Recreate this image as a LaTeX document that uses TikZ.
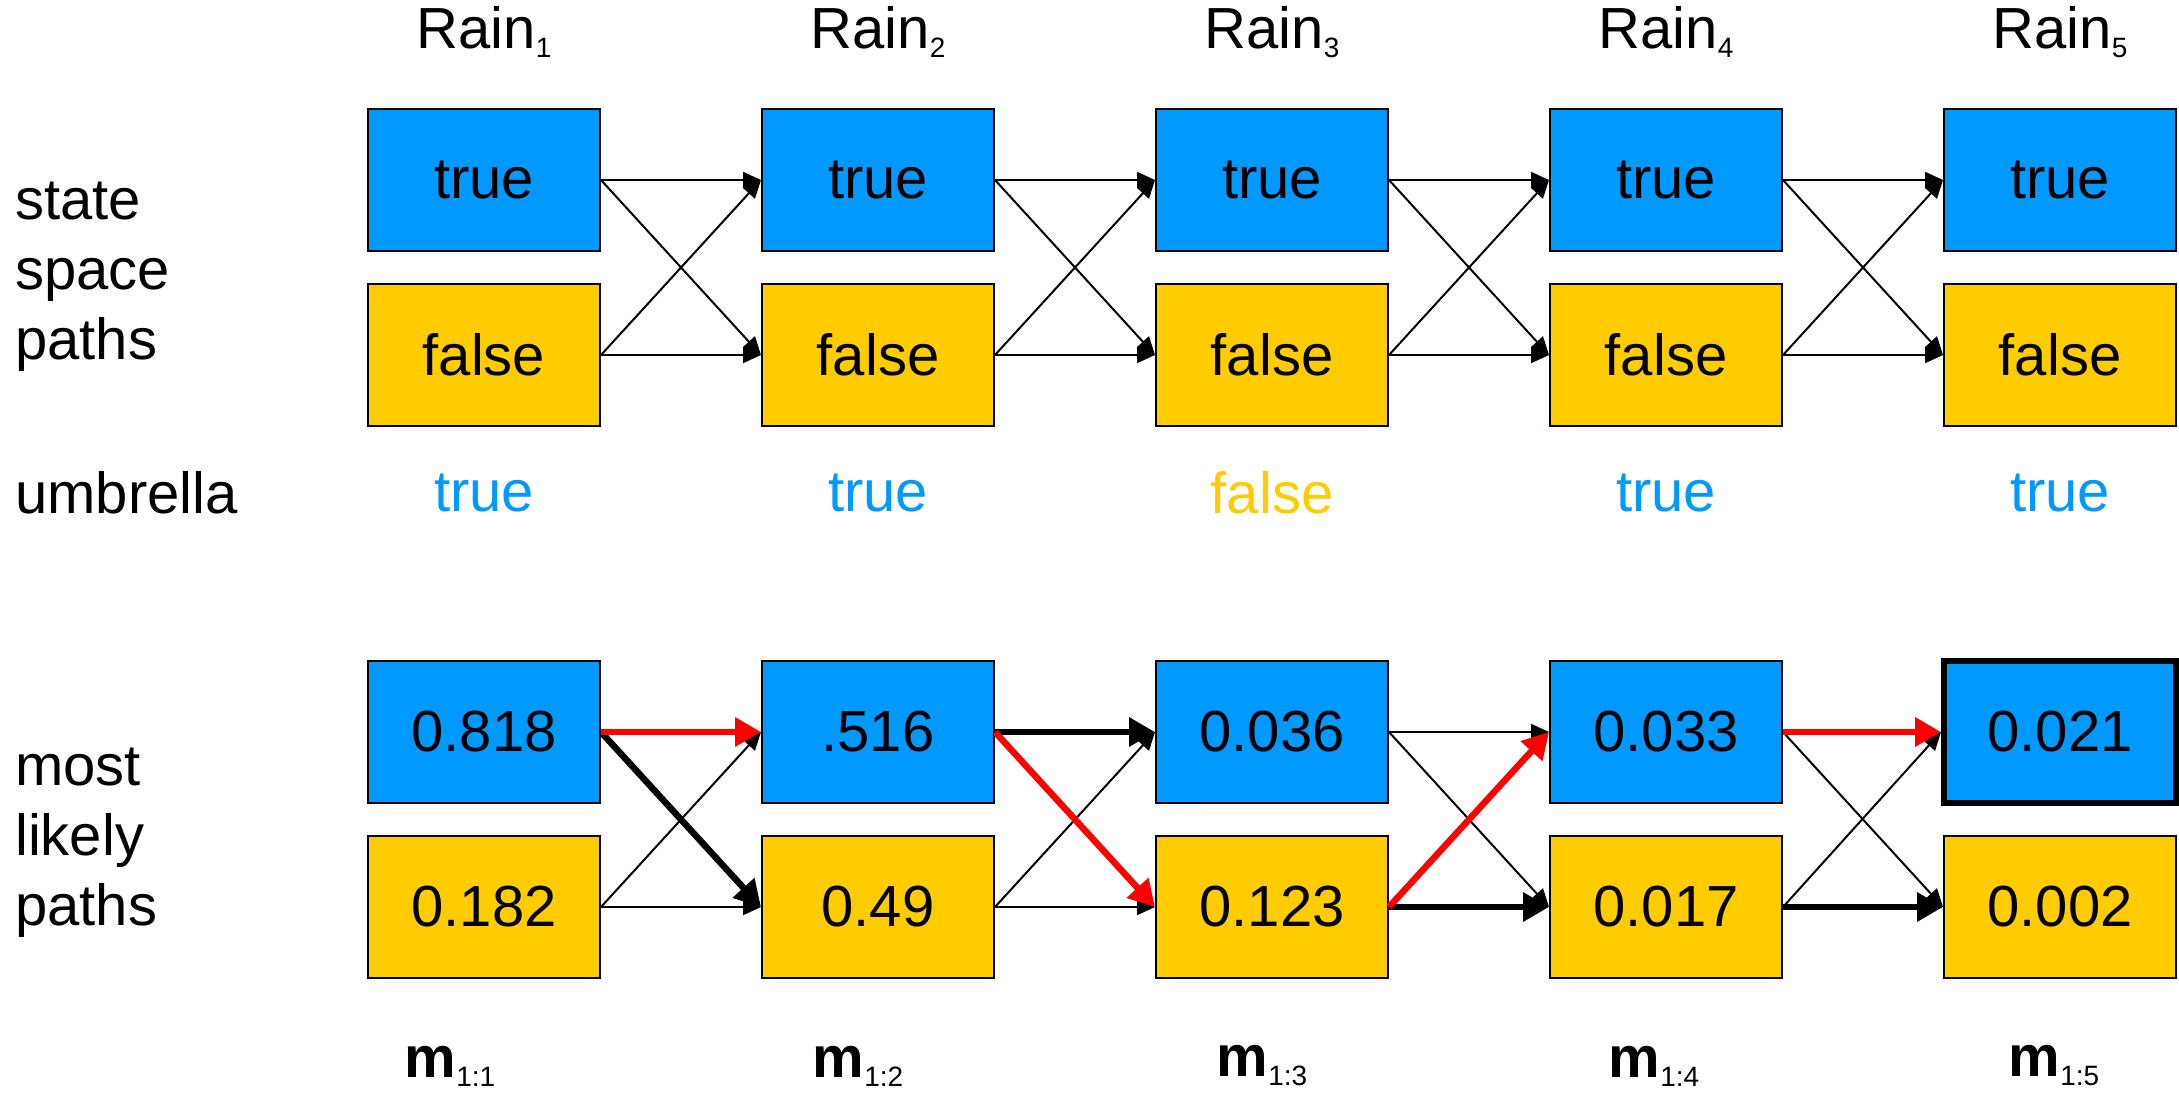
\documentclass[tikz,border=0pt]{standalone}
\usepackage{fontspec}
\setmainfont{Liberation Sans}
\usetikzlibrary{arrows.meta}
\definecolor{sblue}{HTML}{0099FF}
\definecolor{syellow}{HTML}{FFCC00}
\newcommand{\subtxt}[1]{\raisebox{-9pt}{\fontsize{28}{28}\selectfont #1}}
\begin{document}
\begin{tikzpicture}[x=1pt,y=-1pt,
  base/.style={font=\fontsize{58}{70}\selectfont, inner sep=0pt},
  box/.style={base, draw=black, line width=2pt, minimum width=232pt, minimum height=142pt},
  tbox/.style={box, fill=sblue},
  fbox/.style={box, fill=syellow},
  lbl/.style={base, anchor=west, align=left},
  thin/.style={line width=2pt, -{Triangle[length=18pt,width=16pt]}},
  thickb/.style={line width=6.5pt, -{Triangle[length=26pt,width=28pt]}},
  thickr/.style={thickb, red}]
\useasboundingbox (0,0) rectangle (2179,1098);
% column headers
\foreach \i/\x in {1/484,2/878,3/1272,4/1666,5/2060}{
  \node[base] (rain\i) at (\x,32) {Rain\subtxt{\i}};
}
% left labels
\node[lbl] (lab1) at (15,277) {state\\space\\paths};
\node[lbl] (lab2) at (15,493) {umbrella};
\node[lbl] (lab3) at (15,843) {most\\likely\\paths};
% state space boxes
\foreach \i/\x in {1/484,2/878,3/1272,4/1666,5/2060}{
  \node[tbox] (st\i) at (\x,180) {true};
  \node[fbox] (sf\i) at (\x,355) {false};
}
\foreach \i/\j in {1/2,2/3,3/4,4/5}{
  \draw[thin] (st\i.east) -- (st\j.west);
  \draw[thin] (st\i.east) -- (sf\j.west);
  \draw[thin] (sf\i.east) -- (st\j.west);
  \draw[thin] (sf\i.east) -- (sf\j.west);
}
% umbrella
\node[base, text=sblue] (u1) at (484,493) {true};
\node[base, text=sblue] (u2) at (878,493) {true};
\node[base, text=syellow] (u3) at (1272,493) {false};
\node[base, text=sblue] (u4) at (1666,493) {true};
\node[base, text=sblue] (u5) at (2060,493) {true};
% most likely paths
\node[tbox] (mt1) at (484,732) {0.818};
\node[tbox] (mt2) at (878,732) {.516};
\node[tbox] (mt3) at (1272,732) {0.036};
\node[tbox] (mt4) at (1666,732) {0.033};
\node[tbox, line width=6pt] (mt5) at (2060,732) {0.021};
\node[fbox] (mf1) at (484,907) {0.182};
\node[fbox] (mf2) at (878,907) {0.49};
\node[fbox] (mf3) at (1272,907) {0.123};
\node[fbox] (mf4) at (1666,907) {0.017};
\node[fbox] (mf5) at (2060,907) {0.002};
% thin arrows
\draw[thin] (mf1.east) -- (mt2.west);
\draw[thin] (mf1.east) -- (mf2.west);
\draw[thin] (mf2.east) -- (mt3.west);
\draw[thin] (mf2.east) -- (mf3.west);
\draw[thin] (mt3.east) -- (mt4.west);
\draw[thin] (mt3.east) -- (mf4.west);
\draw[thin] (mt4.east) -- (mf5.west);
\draw[thin] (mf4.east) -- (mt5.west);
% thick arrows
\draw[thickb] (mt1.east) -- (mf2.west);
\draw[thickr] (mt1.east) -- (mt2.west);
\draw[thickb] (mt2.east) -- (mt3.west);
\draw[thickr] (mt2.east) -- (mf3.west);
\draw[thickb] (mf3.east) -- (mf4.west);
\draw[thickr] (mf3.east) -- (mt4.west);
\draw[thickb] (mf4.east) -- (mf5.west);
\draw[thickr] (mt4.east) -- (mt5.west);
% m labels
\foreach \i/\x in {1/450,2/858,3/1262,4/1654,5/2054}{
  \node[base] (m\i) at (\x,1066) {\textbf{m}\subtxt{1:\i}};
}
\end{tikzpicture}
\end{document}
